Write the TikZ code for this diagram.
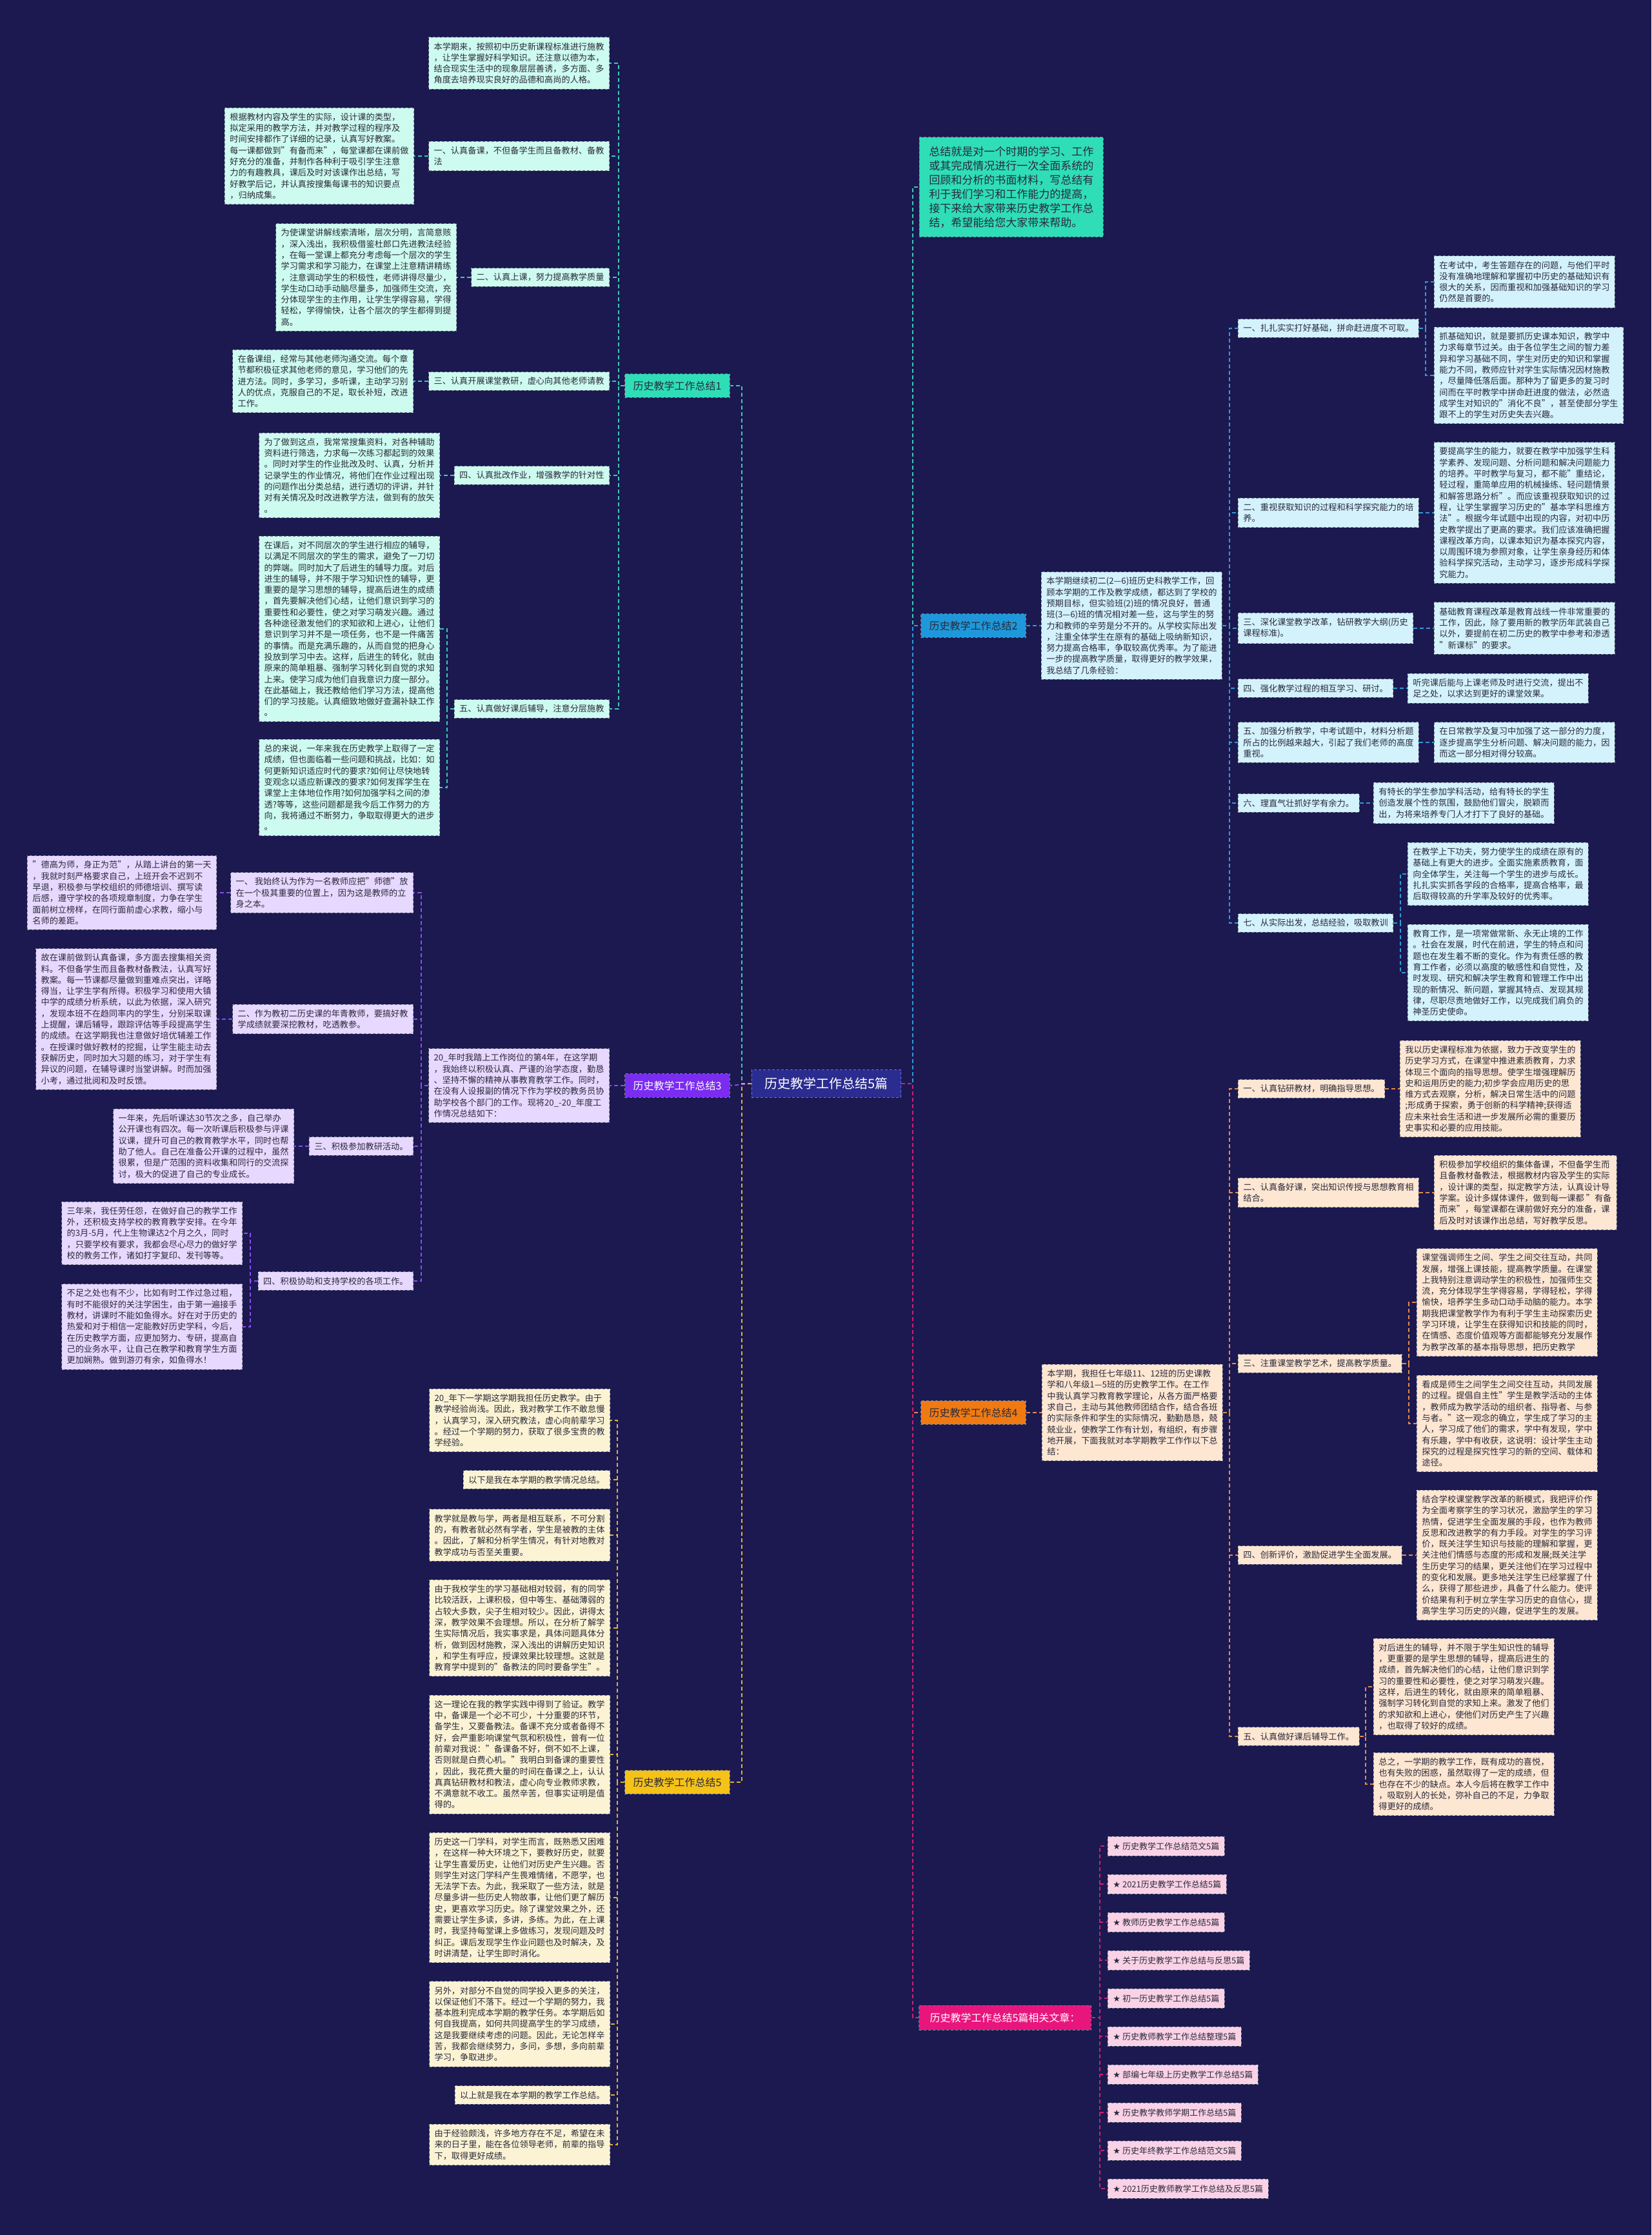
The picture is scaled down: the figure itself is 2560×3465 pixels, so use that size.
\documentclass[tikz,border=0pt]{standalone}
\usepackage{fontspec}
\setmainfont{Noto Sans CJK SC}
\newfontfamily\symfont{DejaVu Sans}
\newcommand\fsz[2]{\fontsize{#1}{#2}\selectfont}
\definecolor{bg}{HTML}{1B1950}
\definecolor{ink}{HTML}{2A2A3A}
\definecolor{cfill}{HTML}{2B2C90}
\definecolor{cedge}{HTML}{6D70D8}
\definecolor{tealL}{HTML}{2FDDB6}
\definecolor{tealF}{HTML}{CDFBEF}
\definecolor{tealLn}{HTML}{3CC9B6}
\definecolor{blueL}{HTML}{1E98DA}
\definecolor{blueF}{HTML}{D3F2FC}
\definecolor{blueLn}{HTML}{2E9BD9}
\definecolor{purL}{HTML}{7A2CF0}
\definecolor{purF}{HTML}{E7D8FF}
\definecolor{purLn}{HTML}{8A4CF2}
\definecolor{orL}{HTML}{F07A12}
\definecolor{orF}{HTML}{FDE6D2}
\definecolor{orLn}{HTML}{E8894A}
\definecolor{yeL}{HTML}{F5C218}
\definecolor{yeF}{HTML}{FBF3D4}
\definecolor{yeLn}{HTML}{DDB230}
\definecolor{piL}{HTML}{E8157D}
\definecolor{piF}{HTML}{FAD2E6}
\definecolor{piLn}{HTML}{CC2174}
\definecolor{edge}{HTML}{7A7F8C}
\tikzset{
  tbox/.style={align=left, font=\fsz{13.2}{17.3}, inner xsep=8pt, inner ysep=8pt,
    draw=edge, line width=0.9pt, dash pattern=on 4pt off 3pt, text=ink},
  b1/.style={tbox, fill=tealF},
  b2/.style={tbox, fill=blueF},
  b3/.style={tbox, fill=purF},
  b4/.style={tbox, fill=orF},
  b5/.style={tbox, fill=yeF},
  bR/.style={tbox, fill=piF, font=\fsz{13}{17}, inner ysep=9pt},
  lab/.style={font=\fsz{16}{19}, inner xsep=13pt, inner ysep=11pt, draw=edge,
    line width=0.9pt, dash pattern=on 4pt off 3pt},
  link/.style={line width=1.8pt, dash pattern=on 6pt off 4pt},
  l1/.style={link, draw=tealLn},
  l2/.style={link, draw=blueLn},
  l3/.style={link, draw=purLn},
  l4/.style={link, draw=orLn},
  l5/.style={link, draw=yeLn},
  lR/.style={link, draw=piLn},
}
\begin{document}
\begin{tikzpicture}[x=1pt,y=-1pt]
\path[use as bounding box, fill=bg] (0,0) rectangle (2560,3465);

% bus coordinates
\coordinate (kL) at (1150,0);
\coordinate (kR) at (1415,0);
\coordinate (k1) at (959,0);
\coordinate (k1s) at (693,0);
\coordinate (k3) at (653,0);
\coordinate (k3s) at (388,0);
\coordinate (k5) at (957,0);
\coordinate (k2) at (1906,0);
\coordinate (k2a) at (2210,0);
\coordinate (k2b) at (2171,0);
\coordinate (k4) at (1906,0);
\coordinate (k4a) at (2184,0);
\coordinate (k4b) at (2117,0);
\coordinate (kRR) at (1705,0);

% center
\node[font=\fsz{20}{24}, fill=cfill, draw=cedge, line width=1pt, dash pattern=on 4pt off 3pt,
  text=white, inner xsep=20pt, inner ysep=12pt] (C) at (1281,1680) {历史教学工作总结5篇};

% intro
\node[tbox, fill=tealL, font=\fsz{17}{22}, inner xsep=15pt, inner ysep=14pt, anchor=west] (intro) at (1425,290)
{总结就是对一个时期的学习、工作\\或其完成情况进行一次全面系统的\\回顾和分析的书面材料，写总结有\\利于我们学习和工作能力的提高，\\接下来给大家带来历史教学工作总\\结，希望能给您大家带来帮助。};

% ================= Branch 1 =================
\node[lab, fill=tealL, text=ink] (L1) at (1050,598) {历史教学工作总结1};
\node[b1, anchor=east] (t1a) at (945,98) {本学期来，按照初中历史新课程标准进行施教\\，让学生掌握好科学知识。还注意以德为本，\\结合现实生活中的现象层层善诱，多方面、多\\角度去培养现实良好的品德和高尚的人格。};
\node[b1, anchor=east] (n11) at (945,242) {一、认真备课，不但备学生而且备教材、备教\\法};
\node[b1, anchor=east] (t11) at (642,242) {根据教材内容及学生的实际，设计课的类型，\\拟定采用的教学方法，并对教学过程的程序及\\时间安排都作了详细的记录，认真写好教案。\\每一课都做到"有备而来"，每堂课都在课前做\\好充分的准备，并制作各种利于吸引学生注意\\力的有趣教具，课后及时对该课作出总结，写\\好教学后记，并认真按搜集每课书的知识要点\\，归纳成集。};
\node[b1, anchor=east] (n12) at (945,430) {二、认真上课，努力提高教学质量};
\node[b1, anchor=east] (t12) at (708,430) {为使课堂讲解线索清晰，层次分明，言简意赅\\，深入浅出，我积极借鉴杜郎口先进教法经验\\，在每一堂课上都充分考虑每一个层次的学生\\学习需求和学习能力，在课堂上注意精讲精练\\，注意调动学生的积极性，老师讲得尽量少，\\学生动口动手动脑尽量多，加强师生交流，充\\分体现学生的主作用，让学生学得容易，学得\\轻松，学得愉快，让各个层次的学生都得到提\\高。};
\node[b1, anchor=east] (n13) at (945,591) {三、认真开展课堂教研，虚心向其他老师请教};
\node[b1, anchor=east] (t13) at (641,591) {在备课组，经常与其他老师沟通交流。每个章\\节都积极征求其他老师的意见，学习他们的先\\进方法。同时，多学习，多听课，主动学习别\\人的优点，克服自己的不足，取长补短，改进\\工作。};
\node[b1, anchor=east] (n14) at (945,737) {四、认真批改作业，增强教学的针对性};
\node[b1, anchor=east] (t14) at (682,737) {为了做到这点，我常常搜集资料，对各种辅助\\资料进行筛选，力求每一次练习都起到的效果\\。同时对学生的作业批改及时、认真，分析并\\记录学生的作业情况，将他们在作业过程出现\\的问题作出分类总结，进行透切的评讲，并针\\对有关情况及时改进教学方法，做到有的放矢\\。};
\node[b1, anchor=east] (n15) at (945,1099) {五、认真做好课后辅导，注意分层施教};
\node[b1, anchor=east] (t15a) at (682,975) {在课后，对不同层次的学生进行相应的辅导，\\以满足不同层次的学生的需求，避免了一刀切\\的弊端。同时加大了后进生的辅导力度。对后\\进生的辅导，并不限于学习知识性的辅导，更\\重要的是学习思想的辅导，提高后进生的成绩\\，首先要解决他们心结，让他们意识到学习的\\重要性和必要性，使之对学习萌发兴趣。通过\\各种途径激发他们的求知欲和上进心，让他们\\意识到学习并不是一项任务，也不是一件痛苦\\的事情。而是充满乐趣的，从而自觉的把身心\\投放到学习中去。这样，后进生的转化，就由\\原来的简单粗暴、强制学习转化到自觉的求知\\上来。使学习成为他们自我意识力度一部分。\\在此基础上，我还教给他们学习方法，提高他\\们的学习技能。认真细致地做好查漏补缺工作\\。};
\node[b1, anchor=east] (t15b) at (682,1221) {总的来说，一年来我在历史教学上取得了一定\\成绩，但也面临着一些问题和挑战，比如：如\\何更新知识适应时代的要求?如何让尽快地转\\变观念以适应新课改的要求?如何发挥学生在\\课堂上主体地位作用?如何加强学科之间的渗\\透?等等，这些问题都是我今后工作努力的方\\向，我将通过不断努力，争取取得更大的进步\\。};

% ================= Branch 3 =================
\node[lab, fill=purL, text=white] (L3) at (1050,1683) {历史教学工作总结3};
\node[b3, anchor=east] (t30) at (945,1683) {20\_年时我踏上工作岗位的第4年，在这学期\\，我始终以积极认真、严谨的治学态度，勤恳\\、坚持不懈的精神从事教育教学工作。同时，\\在没有人设报副的情况下作为学校的教务员协\\助学校各个部门的工作。现将20\_-20\_年度工\\作情况总结如下：};
\node[b3, anchor=east] (n31) at (641,1384) {一、 我始终认为作为一名教师应把"师德"放\\在一个极其重要的位置上，因为这是教师的立\\身之本。};
\node[b3, anchor=east] (t31) at (336,1384) {"德高为师，身正为范"，从踏上讲台的第一天\\，我就时刻严格要求自己，上班开会不迟到不\\早退，积极参与学校组织的师德培训、撰写读\\后感，遵守学校的各项规章制度，力争在学生\\面前树立榜样，在同行面前虚心求教，缩小与\\名师的差距。};
\node[b3, anchor=east] (n32) at (641,1580) {二、作为教初二历史课的年青教师，要搞好教\\学成绩就要深挖教材，吃透教参。};
\node[b3, anchor=east] (t32) at (336,1580) {故在课前做到认真备课，多方面去搜集相关资\\料。不但备学生而且备教材备教法，认真写好\\教案。每一节课都尽量做到重难点突出，详略\\得当，让学生学有所得。积极学习和使用大镇\\中学的成绩分析系统，以此为依据，深入研究\\，发现本班不在趋同率内的学生，分别采取课\\上提醒，课后辅导，跟踪评估等手段提高学生\\的成绩。在这学期我也注意做好培优辅差工作\\。在授课时做好教材的挖掘，让学生能主动去\\获解历史，同时加大习题的练习，对于学生有\\异议的问题，在辅导课时当堂讲解。时而加强\\小考，通过批阅和及时反馈。};
\node[b3, anchor=east] (n33) at (641,1777) {三、积极参加教研活动。};
\node[b3, anchor=east] (t33) at (456,1777) {一年来，先后听课达30节次之多，自己举办\\公开课也有四次。每一次听课后积极参与评课\\议课，提升可自己的教育教学水平，同时也帮\\助了他人。自己在准备公开课的过程中，虽然\\很累，但是广范围的资料收集和同行的交流探\\讨，极大的促进了自己的专业成长。};
\node[b3, anchor=east] (n34) at (641,1986) {四、积极协助和支持学校的各项工作。};
\node[b3, anchor=east] (t34a) at (376,1912) {三年来，我任劳任怨，在做好自己的教学工作\\外，还积极支持学校的教育教学安排。在今年\\的3月-5月，代上生物课达2个月之久，同时\\，只要学校有要求，我都会尽心尽力的做好学\\校的教务工作，诸如打字复印、发刊等等。};
\node[b3, anchor=east] (t34b) at (376,2057) {不足之处也有不少，比如有时工作过急过粗，\\有时不能很好的关注学困生，由于第一遍接手\\教材，讲课时不能如鱼得水。好在对于历史的\\热爱和对于相信一定能教好历史学科，今后，\\在历史教学方面，应更加努力、专研，提高自\\己的业务水平，让自己在教学和教育学生方面\\更加娴熟。做到游刃有余，如鱼得水！};

% ================= Branch 5 =================
\node[lab, fill=yeL, text=ink] (L5) at (1050,2763) {历史教学工作总结5};
\node[b5, anchor=east] (t50) at (946,2202) {20\_年下一学期这学期我担任历史教学。由于\\教学经验尚浅。因此，我对教学工作不敢怠慢\\，认真学习，深入研究教法，虚心向前辈学习\\。经过一个学期的努力，获取了很多宝贵的教\\学经验。};
\node[b5, anchor=east] (t51) at (946,2294) {以下是我在本学期的教学情况总结。};
\node[b5, anchor=east] (t52) at (946,2380) {教学就是教与学，两者是相互联系，不可分割\\的，有教者就必然有学者，学生是被教的主体\\。因此，了解和分析学生情况，有针对地教对\\教学成功与否至关重要。};
\node[b5, anchor=east] (t53) at (946,2524) {由于我校学生的学习基础相对较弱，有的同学\\比较活跃，上课积极，但中等生、基础薄弱的\\占较大多数，尖子生相对较少。因此，讲得太\\深，教学效果不会理想。所以，在分析了解学\\生实际情况后，我实事求是，具体问题具体分\\析，做到因材施教，深入浅出的讲解历史知识\\，和学生有呼应，授课效果比较理想。这就是\\教育学中提到的"备教法的同时要备学生"。};
\node[b5, anchor=east] (t54) at (946,2720) {这一理论在我的教学实践中得到了验证。教学\\中，备课是一个必不可少，十分重要的环节，\\备学生，又要备教法。备课不充分或者备得不\\好，会严重影响课堂气氛和积极性，曾有一位\\前辈对我说："备课备不好，倒不如不上课，\\否则就是白费心机。"我明白到备课的重要性\\，因此，我花费大量的时间在备课之上，认认\\真真钻研教材和教法，虚心向专业教师求教，\\不满意就不收工。虽然辛苦，但事实证明是值\\得的。};
\node[b5, anchor=east] (t55) at (946,2942) {历史这一门学科，对学生而言，既熟悉又困难\\，在这样一种大环境之下，要教好历史，就要\\让学生喜爱历史，让他们对历史产生兴趣。否\\则学生对这门学科产生畏难情绪，不愿学，也\\无法学下去。为此，我采取了一些方法，就是\\尽量多讲一些历史人物故事，让他们更了解历\\史，更喜欢学习历史。除了课堂效果之外，还\\需要让学生多读，多讲，多练。为此，在上课\\时，我坚持每堂课上多做练习，发现问题及时\\纠正。课后发现学生作业问题也及时解决，及\\时讲清楚，让学生即时消化。};
\node[b5, anchor=east] (t56) at (946,3138) {另外，对部分不自觉的同学投入更多的关注，\\以保证他们不落下。经过一个学期的努力，我\\基本胜利完成本学期的教学任务。本学期后如\\何自我提高，如何共同提高学生的学习成绩，\\这是我要继续考虑的问题。因此，无论怎样辛\\苦，我都会继续努力，多问，多想，多向前辈\\学习，争取进步。};
\node[b5, anchor=east] (t57) at (946,3248) {以上就是我在本学期的教学工作总结。};
\node[b5, anchor=east] (t58) at (946,3325) {由于经验颇浅，许多地方存在不足，希望在未\\来的日子里，能在各位领导老师，前辈的指导\\下，取得更好成绩。};

% ================= Branch 2 =================
\node[lab, fill=blueL, text=ink] (L2) at (1509,970) {历史教学工作总结2};
\node[b2, anchor=west] (t20) at (1614,970) {本学期继续初二(2—6)班历史科教学工作，回\\顾本学期的工作及教学成绩，都达到了学校的\\预期目标，但实验班(2)班的情况良好，普通\\班(3—6)班的情况相对差一些，这与学生的努\\力和教师的辛劳是分不开的。从学校实际出发\\，注重全体学生在原有的基础上吸纳新知识，\\努力提高合格率，争取较高优秀率。为了能进\\一步的提高教学质量，取得更好的教学效果，\\我总结了几条经验：};
\node[b2, anchor=west] (n21) at (1919,509) {一、扎扎实实打好基础，拼命赶进度不可取。};
\node[b2, anchor=west] (t21a) at (2223,437) {在考试中，考生答题存在的问题，与他们平时\\没有准确地理解和掌握初中历史的基础知识有\\很大的关系，因而重视和加强基础知识的学习\\仍然是首要的。};
\node[b2, anchor=west] (t21b) at (2223,582) {抓基础知识，就是要抓历史课本知识，教学中\\力求每章节过关。由于各位学生之间的智力差\\异和学习基础不同，学生对历史的知识和掌握\\能力不同，教师应针对学生实际情况因材施教\\，尽量降低落后面。那种为了留更多的复习时\\间而在平时教学中拼命赶进度的做法，必然造\\成学生对知识的"消化不良"，甚至使部分学生\\跟不上的学生对历史失去兴趣。};
\node[b2, anchor=west] (n22) at (1919,795) {二、重视获取知识的过程和科学探究能力的培\\养。};
\node[b2, anchor=west] (t22) at (2223,795) {要提高学生的能力，就要在教学中加强学生科\\学素养、发现问题、分析问题和解决问题能力\\的培养。平时教学与复习，都不能"重结论，\\轻过程，重简单应用的机械操练、轻问题情景\\和解答思路分析"。而应该重视获取知识的过\\程，让学生掌握学习历史的"基本学科思维方\\法"。根据今年试题中出现的内容，对初中历\\史教学提出了更高的要求。我们应该准确把握\\课程改革方向，以课本知识为基本探究内容，\\以周围环境为参照对象，让学生亲身经历和体\\验科学探究活动，主动学习，逐步形成科学探\\究能力。};
\node[b2, anchor=west] (n23) at (1919,974) {三、深化课堂教学改革，钻研教学大纲(历史\\课程标准)。};
\node[b2, anchor=west] (t23) at (2223,974) {基础教育课程改革是教育战线一件非常重要的\\工作，因此，除了要用新的教学历年武装自己\\以外，要提前在初二历史的教学中参考和渗透\\"新课标"的要求。};
\node[b2, anchor=west] (n24) at (1919,1067) {四、强化教学过程的相互学习、研讨。};
\node[b2, anchor=west] (t24) at (2182,1067) {听完课后能与上课老师及时进行交流，提出不\\足之处，以求达到更好的课堂效果。};
\node[b2, anchor=west] (n25) at (1919,1151) {五、加强分析教学，中考试题中，材料分析题\\所占的比例越来越大，引起了我们老师的高度\\重视。};
\node[b2, anchor=west] (t25) at (2223,1151) {在日常教学及复习中加强了这一部分的力度，\\逐步提高学生分析问题、解决问题的能力，因\\而这一部分相对得分较高。};
\node[b2, anchor=west] (n26) at (1919,1245) {六、理直气壮抓好学有余力。};
\node[b2, anchor=west] (t26) at (2129,1245) {有特长的学生参加学科活动，给有特长的学生\\创造发展个性的氛围，鼓励他们冒尖，脱颖而\\出，为将来培养专门人才打下了良好的基础。};
\node[b2, anchor=west] (n27) at (1919,1431) {七、从实际出发，总结经验，吸取教训};
\node[b2, anchor=west] (t27a) at (2182,1355) {在教学上下功夫，努力使学生的成绩在原有的\\基础上有更大的进步。全面实施素质教育，面\\向全体学生，关注每一个学生的进步与成长。\\扎扎实实抓各学段的合格率，提高合格率，最\\后取得较高的升学率及较好的优秀率。};
\node[b2, anchor=west] (t27b) at (2182,1508) {教育工作，是一项常做常新、永无止境的工作\\。社会在发展，时代在前进，学生的特点和问\\题也在发生着不断的变化。作为有责任感的教\\育工作者，必须以高度的敏感性和自觉性，及\\时发现、研究和解决学生教育和管理工作中出\\现的新情况、新问题，掌握其特点、发现其规\\律，尽职尽责地做好工作，以完成我们肩负的\\神圣历史使命。};

% ================= Branch 4 =================
\node[lab, fill=orL, text=ink] (L4) at (1509,2190) {历史教学工作总结4};
\node[b4, anchor=west] (t40) at (1615,2190) {本学期，我担任七年级11、12班的历史课教\\学和八年级1—5班的历史教学工作。在工作\\中我认真学习教育教学理论，从各方面严格要\\求自己，主动与其他教师团结合作，结合各班\\的实际条件和学生的实际情况，勤勤恳恳，兢\\兢业业，使教学工作有计划，有组织，有步骤\\地开展，下面我就对本学期教学工作作以下总\\结：};
\node[b4, anchor=west] (n41) at (1919,1688) {一、认真钻研教材，明确指导思想。};
\node[b4, anchor=west] (t41) at (2170,1688) {我以历史课程标准为依据，致力于改变学生的\\历史学习方式，在课堂中推进素质教育，力求\\体现三个面向的指导思想。使学生增强理解历\\史和运用历史的能力;初步学会应用历史的思\\维方式去观察，分析，解决日常生活中的问题\\;形成勇于探索，勇于创新的科学精神;获得适\\应未来社会生活和进一步发展所必需的重要历\\史事实和必要的应用技能。};
\node[b4, anchor=west] (n42) at (1919,1849) {二、认真备好课，突出知识传授与思想教育相\\结合。};
\node[b4, anchor=west] (t42) at (2223,1849) {积极参加学校组织的集体备课，不但备学生而\\且备教材备教法，根据教材内容及学生的实际\\，设计课的类型，拟定教学方法，认真设计导\\学案。设计多媒体课件，做到每一课都 "有备\\而来"，每堂课都在课前做好充分的准备，课\\后及时对该课作出总结，写好教学反思。};
\node[b4, anchor=west] (n43) at (1919,2114) {三、注重课堂教学艺术，提高教学质量。};
\node[b4, anchor=west] (t43a) at (2196,2019) {课堂强调师生之间、学生之间交往互动，共同\\发展，增强上课技能，提高教学质量。在课堂\\上我特别注意调动学生的积极性，加强师生交\\流，充分体现学生学得容易，学得轻松，学得\\愉快，培养学生多动口动手动脑的能力。本学\\期我把课堂教学作为有利于学生主动探索历史\\学习环境，让学生在获得知识和技能的同时，\\在情感、态度价值观等方面都能够充分发展作\\为教学改革的基本指导思想，把历史教学};
\node[b4, anchor=west] (t43b) at (2196,2207) {看成是师生之间学生之间交往互动，共同发展\\的过程。提倡自主性"学生是教学活动的主体\\，教师成为教学活动的组织者、指导者、与参\\与者。"这一观念的确立，学生成了学习的主\\人，学习成了他们的需求，学中有发现，学中\\有乐趣，学中有收获，这说明：设计学生主动\\探究的过程是探究性学习的新的空间、载体和\\途径。};
\node[b4, anchor=west] (n44) at (1919,2411) {四、创新评价，激励促进学生全面发展。};
\node[b4, anchor=west] (t44) at (2196,2411) {结合学校课堂教学改革的新模式，我把评价作\\为全面考察学生的学习状况，激励学生的学习\\热情，促进学生全面发展的手段，也作为教师\\反思和改进教学的有力手段。对学生的学习评\\价，既关注学生知识与技能的理解和掌握，更\\关注他们情感与态度的形成和发展;既关注学\\生历史学习的结果，更关注他们在学习过程中\\的变化和发展。更多地关注学生已经掌握了什\\么，获得了那些进步，具备了什么能力。使评\\价结果有利于树立学生学习历史的自信心，提\\高学生学习历史的兴趣，促进学生的发展。};
\node[b4, anchor=west] (n45) at (1919,2692) {五、认真做好课后辅导工作。};
\node[b4, anchor=west] (t45a) at (2129,2615) {对后进生的辅导，并不限于学生知识性的辅导\\，更重要的是学生思想的辅导，提高后进生的\\成绩，首先解决他们的心结，让他们意识到学\\习的重要性和必要性，使之对学习萌发兴趣。\\这样，后进生的转化，就由原来的简单粗暴、\\强制学习转化到自觉的求知上来。激发了他们\\的求知欲和上进心，使他们对历史产生了兴趣\\，也取得了较好的成绩。};
\node[b4, anchor=west] (t45b) at (2129,2766) {总之，一学期的教学工作，既有成功的喜悦，\\也有失败的困惑，虽然取得了一定的成绩，但\\也存在不少的缺点。本人今后将在教学工作中\\，吸取别人的长处，弥补自己的不足，力争取\\得更好的成绩。};

% ================= Related =================
\node[lab, fill=piL, text=white, inner xsep=17pt, inner ysep=11.5pt] (LR) at (1558,3128) {历史教学工作总结5篇相关文章：};
\node[bR, anchor=west] (r1) at (1717,2862) {{\symfont ★} 历史教学工作总结范文5篇};
\node[bR, anchor=west] (r2) at (1717,2921) {{\symfont ★} 2021历史教学工作总结5篇};
\node[bR, anchor=west] (r3) at (1717,2980) {{\symfont ★} 教师历史教学工作总结5篇};
\node[bR, anchor=west] (r4) at (1717,3039) {{\symfont ★} 关于历史教学工作总结与反思5篇};
\node[bR, anchor=west] (r5) at (1717,3098) {{\symfont ★} 初一历史教学工作总结5篇};
\node[bR, anchor=west] (r6) at (1717,3157) {{\symfont ★} 历史教师教学工作总结整理5篇};
\node[bR, anchor=west] (r7) at (1717,3216) {{\symfont ★} 部编七年级上历史教学工作总结5篇};
\node[bR, anchor=west] (r8) at (1717,3275) {{\symfont ★} 历史教学教师学期工作总结5篇};
\node[bR, anchor=west] (r9) at (1717,3334) {{\symfont ★} 历史年终教学工作总结范文5篇};
\node[bR, anchor=west] (r10) at (1717,3393) {{\symfont ★} 2021历史教师教学工作总结及反思5篇};

% ================= Connectors =================
% center
\draw[l1] (C.west) -- (C.west -| kL) |- (L1.east);
\draw[l3] (C.west) -- (L3.east);
\draw[l5] (C.west) -- (C.west -| kL) |- (L5.east);
\draw[l1] (C.east) -- (C.east -| kR) |- (intro.west);
\draw[l2] (C.east) -- (C.east -| kR) |- (L2.west);
\draw[l4] (C.east) -- (C.east -| kR) |- (L4.west);
\draw[lR] (C.east) -- (C.east -| kR) |- (LR.west);

% branch 1
\foreach \c in {t1a,n11,n12,n13,n14,n15}
  \draw[l1] (L1.west) -- (L1.west -| k1) |- (\c.east);
\draw[l1] (n11.west) -- (t11.east);
\draw[l1] (n12.west) -- (t12.east);
\draw[l1] (n13.west) -- (t13.east);
\draw[l1] (n14.west) -- (t14.east);
\draw[l1] (n15.west) -- (n15.west -| k1s) |- (t15a.east);
\draw[l1] (n15.west) -- (n15.west -| k1s) |- (t15b.east);

% branch 3
\draw[l3] (L3.west) -- (t30.east);
\foreach \c in {n31,n32,n33,n34}
  \draw[l3] (t30.west) -- (t30.west -| k3) |- (\c.east);
\draw[l3] (n31.west) -- (t31.east);
\draw[l3] (n32.west) -- (t32.east);
\draw[l3] (n33.west) -- (t33.east);
\draw[l3] (n34.west) -- (n34.west -| k3s) |- (t34a.east);
\draw[l3] (n34.west) -- (n34.west -| k3s) |- (t34b.east);

% branch 5
\foreach \c in {t50,t51,t52,t53,t54,t55,t56,t57,t58}
  \draw[l5] (L5.west) -- (L5.west -| k5) |- (\c.east);

% branch 2
\draw[l2] (L2.east) -- (t20.west);
\foreach \c in {n21,n22,n23,n24,n25,n26,n27}
  \draw[l2] (t20.east) -- (t20.east -| k2) |- (\c.west);
\draw[l2] (n21.east) -- (n21.east -| k2a) |- (t21a.west);
\draw[l2] (n21.east) -- (n21.east -| k2a) |- (t21b.west);
\draw[l2] (n22.east) -- (t22.west);
\draw[l2] (n23.east) -- (t23.west);
\draw[l2] (n24.east) -- (t24.west);
\draw[l2] (n25.east) -- (t25.west);
\draw[l2] (n26.east) -- (t26.west);
\draw[l2] (n27.east) -- (n27.east -| k2b) |- (t27a.west);
\draw[l2] (n27.east) -- (n27.east -| k2b) |- (t27b.west);

% branch 4
\draw[l4] (L4.east) -- (t40.west);
\foreach \c in {n41,n42,n43,n44,n45}
  \draw[l4] (t40.east) -- (t40.east -| k4) |- (\c.west);
\draw[l4] (n41.east) -- (t41.west);
\draw[l4] (n42.east) -- (t42.west);
\draw[l4] (n43.east) -- (n43.east -| k4a) |- (t43a.west);
\draw[l4] (n43.east) -- (n43.east -| k4a) |- (t43b.west);
\draw[l4] (n44.east) -- (t44.west);
\draw[l4] (n45.east) -- (n45.east -| k4b) |- (t45a.west);
\draw[l4] (n45.east) -- (n45.east -| k4b) |- (t45b.west);

% related
\foreach \c in {r1,r2,r3,r4,r5,r6,r7,r8,r9,r10}
  \draw[lR] (LR.east) -- (LR.east -| kRR) |- (\c.west);
\end{tikzpicture}
\end{document}
